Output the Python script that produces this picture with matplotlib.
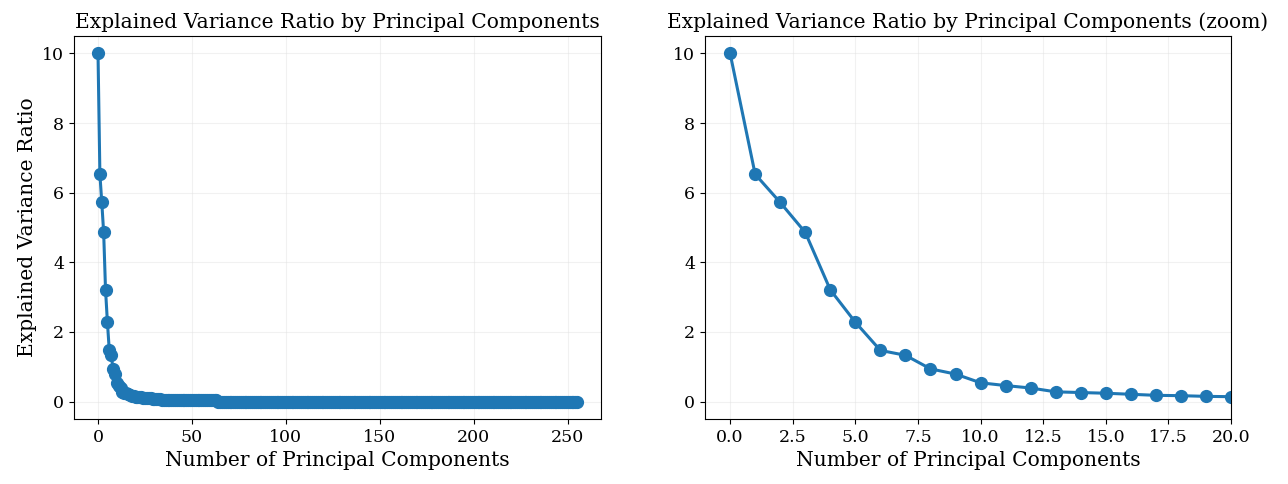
import matplotlib.pyplot as plt
import numpy as np

### data : explained variance ratio per principal component
head = [10.0, 6.53, 5.72, 4.86, 3.21, 2.28, 1.47, 1.33, 0.94, 0.79,
        0.54, 0.46, 0.39, 0.28, 0.26, 0.24, 0.21, 0.18, 0.17, 0.15,
        0.14]
mid = [0.13, 0.12, 0.12, 0.11, 0.10, 0.10, 0.09, 0.09, 0.08, 0.08,
       0.08, 0.07, 0.07, 0.06, 0.05, 0.05, 0.05, 0.05, 0.05, 0.05,
       0.05, 0.05, 0.05, 0.05, 0.05, 0.05, 0.05, 0.04, 0.04, 0.04,
       0.04, 0.04, 0.04, 0.04, 0.04, 0.04, 0.04, 0.04, 0.04, 0.04,
       0.04, 0.04, 0.04]
tail = [0.0] * 192                                   # components 64..255 ~ zero
evr = np.array(head + mid + tail)
comp = np.arange(len(evr))

plt.rcParams['font.family'] = 'DejaVu Serif'

fig = plt.figure(figsize=(12.88, 4.84), dpi=100)
ax1 = fig.add_axes([0.0575, 0.1343, 0.4092, 0.7913])
ax2 = fig.add_axes([0.5474, 0.1343, 0.4084, 0.7913])

for ax in (ax1, ax2):
    ax.plot(comp, evr, marker='o', markersize=8.5, linewidth=2.2, color='#1f77b4')
    ax.grid(True, color='#dddddd', alpha=0.4, linewidth=0.8)
    ax.set_xlabel('Number of Principal Components', fontsize=14.6)
    ax.tick_params(labelsize=12.5)

ax1.set_title('Explained Variance Ratio by Principal Components', fontsize=14.6)
ax1.set_ylabel('Explained Variance Ratio', fontsize=14.6)

ax2.set_title('Explained Variance Ratio by Principal Components (zoom)', fontsize=14.6)
ax2.set_xlim(-1, 20)
ax2.set_xticks(np.arange(0, 20.1, 2.5))
ax2.set_ylim(ax1.get_ylim())

plt.savefig('out.png', dpi=100)
